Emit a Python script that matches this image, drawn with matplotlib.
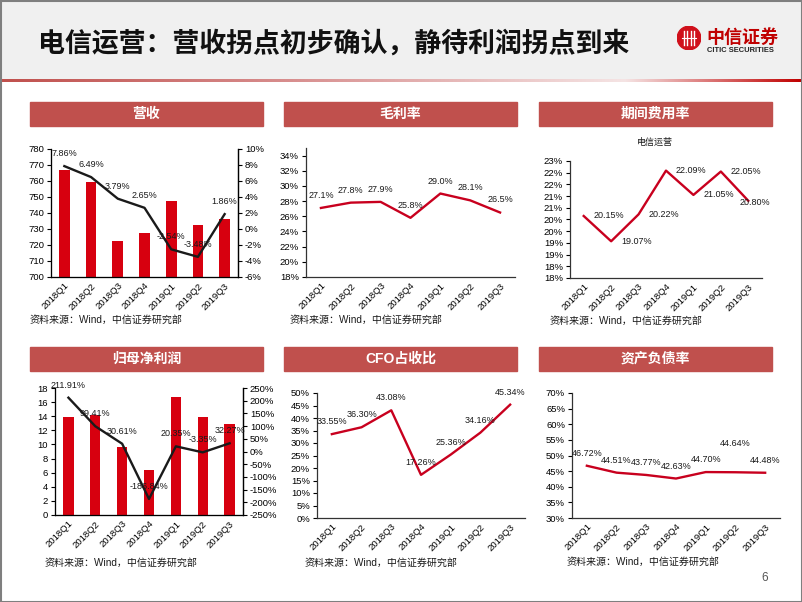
import numpy as np
import matplotlib
matplotlib.use('Agg')
import matplotlib.pyplot as plt
from matplotlib.patches import Rectangle, Circle
from matplotlib.ticker import FuncFormatter

plt.rcParams['font.family'] = ['Liberation Sans', 'Noto Sans CJK SC', 'DejaVu Sans']

# data
quarters = ['2018Q1', '2018Q2', '2018Q3', '2018Q4', '2019Q1', '2019Q2', '2019Q3']
revenue = [767.0, 759.3, 722.8, 727.4, 747.3, 732.5, 736.2]          # 营收 (bars)
revenue_yoy = [7.86, 6.49, 3.79, 2.65, -2.54, -3.48, 1.86]           # %
gross_margin = [27.1, 27.8, 27.9, 25.8, 29.0, 28.1, 26.5]            # %
expense_ratio = [20.15, 19.07, 20.22, 22.09, 21.05, 22.05, 20.80]    # %
net_profit = [13.86, 14.24, 9.62, 6.37, 16.7, 13.86, 12.83]          # 归母净利润 (bars)
net_profit_yoy = [211.91, 99.41, 30.61, -186.84, 20.35, -3.35, 32.27]
cfo_ratio = [33.55, 36.30, 43.08, 17.26, 25.36, 34.16, 45.34]
debt_ratio = [46.72, 44.51, 43.77, 42.63, 44.70, 44.64, 44.48]

page_title = '电信运营：营收拐点初步确认，静待利润拐点到来'
panel_titles = ['营收', '毛利率', '期间费用率', '归母净利润', 'CFO占收比', '资产负债率']
source = '资料来源：Wind，中信证券研究部'

W, H = 802, 602
BAR = '#d7000f'
LINE = '#c8001e'
BANNER = '#c0504d'
TICK = 6.8
LAB = 6.5
x = np.arange(len(quarters))

fig = plt.figure(figsize=(W / 100, H / 100), dpi=100)


def rect(l, t, r, b):
    return [l / W, 1 - b / H, (r - l) / W, (b - t) / H]


def fig_rect(l, t, r, b, **kw):
    fig.patches.append(Rectangle((l / W, 1 - b / H), (r - l) / W, (b - t) / H,
                                 transform=fig.transFigure, **kw))


def pct(dec=0):
    return FuncFormatter(lambda v, p: f'{v:.{dec}f}%')


def style(ax, right=False):
    ax.spines['top'].set_visible(False)
    if not right:
        ax.spines['right'].set_visible(False)
    for s in ax.spines.values():
        s.set_linewidth(0.9)
        s.set_color('#333333')
    ax.set_xlim(-0.5, len(quarters) - 0.5)
    ax.set_xticks(x)
    ax.set_xticklabels(quarters, rotation=45, ha='right', rotation_mode='anchor')
    ax.tick_params(axis='x', length=0, labelsize=TICK, pad=3)
    ax.tick_params(axis='y', direction='out', length=3, width=0.8, labelsize=TICK, pad=2)
    ax.set_facecolor('none')


def labels(ax, vals, fmt, dy=9, dx=0, ha='center', va='center'):
    for i, v in enumerate(vals):
        ax.annotate(fmt.format(v), (i, v), xytext=(dx, dy), textcoords='offset points',
                    ha=ha, va=va, fontsize=LAB, color='#1a1a1a', clip_on=False)


# header
fig_rect(0, 0, W, 78, color='#f0f0f0', zorder=-5)
grad_ax = fig.add_axes(rect(0, 79, W, 82))
stops = np.array([[192, 80, 77], [215, 140, 140], [245, 228, 228], [192, 0, 0]]) / 255
pos = [0.0, 0.35, 0.78, 1.0]
g = np.linspace(0, 1, 400)
grad = np.stack([np.interp(g, pos, stops[:, k]) for k in range(3)], axis=-1)
grad_ax.imshow(grad[None, :, :], aspect='auto', extent=[0, 1, 0, 1])
grad_ax.axis('off')

fig.text(38 / W, 1 - 44 / H, page_title, fontsize=19.4, weight='bold',
         family='Noto Sans CJK SC', va='center', color='#111111')

logo = fig.add_axes(rect(677, 26, 701, 50))
logo.add_patch(Circle((0.5, 0.5), 0.49, color='#d0101b'))
for xx in [0.3, 0.43, 0.57, 0.7]:
    logo.plot([xx, xx], [0.22, 0.78], color='white', lw=1.0)
logo.plot([0.22, 0.78], [0.5, 0.5], color='white', lw=0.8)
logo.set_xlim(0, 1)
logo.set_ylim(0, 1)
logo.axis('off')
fig.text(706 / W, 1 - 37 / H, '中信证券', fontsize=13, weight='bold',
         family='Noto Sans CJK SC', color='#c00000', va='center')
fig.text(707 / W, 1 - 50 / H, 'CITIC SECURITIES', fontsize=5.4, weight='bold',
         color='#222222', va='center')

# banners and sources
cols = [(30, 263), (284, 517), (539, 772)]
rows = [(102, 126), (347, 371)]
src_pos = [(30, 320), (290, 320), (550, 321), (45, 563), (305, 563), (567, 562)]
for k, name in enumerate(panel_titles):
    l, r = cols[k % 3]
    t, b = rows[k // 3]
    fig_rect(l, t, r, b, color=BANNER)
    fig.text((l + r) / 2 / W, 1 - (t + b) / 2 / H, name, color='white', fontsize=10,
             weight='bold', ha='center', va='center')
    sx, sy = src_pos[k]
    fig.text(sx / W, 1 - sy / H, source, fontsize=7.2, va='center', color='#1a1a1a')

# 1 营收
ax1 = fig.add_axes(rect(51, 149, 238, 277))
ax1.bar(x, revenue, width=0.4, color=BAR)
ax1.set_ylim(700, 780)
ax1.set_yticks(np.arange(700, 781, 10))
style(ax1, right=True)
ax1b = ax1.twinx()
ax1b.plot(x, revenue_yoy, color='#1a1a1a', lw=1.7)
ax1b.set_ylim(-6, 10)
ax1b.set_yticks(np.arange(-6, 11, 2))
ax1b.yaxis.set_major_formatter(pct())
ax1b.spines['top'].set_visible(False)
ax1b.spines['right'].set_linewidth(0.9)
ax1b.tick_params(axis='y', direction='out', length=3, width=0.8, labelsize=TICK, pad=2)
labels(ax1b, revenue_yoy, '{:.2f}%')

# 2 毛利率
ax2 = fig.add_axes(rect(306, 148, 515, 277))
ax2.plot(x, gross_margin, color=LINE, lw=1.7)
ax2.set_ylim(18, 35)
ax2.set_yticks(np.arange(18, 35, 2))
ax2.yaxis.set_major_formatter(pct())
style(ax2)
labels(ax2, gross_margin, '{:.1f}%')

# 3 期间费用率
ax3 = fig.add_axes(rect(570, 161, 762, 278))
ax3.plot(x, expense_ratio, color=LINE, lw=1.7)
ax3.set_ylim(17.5, 22.5)
ax3.set_yticks(np.arange(17.5, 22.51, 0.5))
ax3.yaxis.set_major_formatter(FuncFormatter(lambda v, p: f'{int(np.floor(v + 0.5 + 1e-9))}%'))
style(ax3)
labels(ax3, expense_ratio[:-1], '{:.2f}%', dy=0, dx=7, ha='left')
ax3.annotate(f'{expense_ratio[-1]:.2f}%', (6, expense_ratio[-1]), xytext=(-6, -1),
             textcoords='offset points', ha='left', va='center', fontsize=LAB, color='#1a1a1a')
fig.text(655 / W, 1 - 142 / H, '电信运营', fontsize=6.5, ha='center', va='center', color='#1a1a1a')

# 4 归母净利润
ax4 = fig.add_axes(rect(55, 388, 243, 515))
ax4.bar(x, net_profit, width=0.38, color=BAR)
ax4.set_ylim(0, 18)
ax4.set_yticks(np.arange(0, 19, 2))
style(ax4, right=True)
ax4b = ax4.twinx()
ax4b.plot(x, net_profit_yoy, color='#1a1a1a', lw=1.7)
ax4b.set_ylim(-250, 250)
ax4b.set_yticks(np.arange(-250, 251, 50))
ax4b.yaxis.set_major_formatter(pct())
ax4b.spines['top'].set_visible(False)
ax4b.spines['right'].set_linewidth(0.9)
ax4b.tick_params(axis='y', direction='out', length=3, width=0.8, labelsize=TICK, pad=2)
labels(ax4b, net_profit_yoy, '{:.2f}%')

# 5 CFO占收比
ax5 = fig.add_axes(rect(317, 393, 525, 518))
ax5.plot(x, cfo_ratio, color=LINE, lw=1.7)
ax5.set_ylim(0, 50)
ax5.set_yticks(np.arange(0, 51, 5))
ax5.yaxis.set_major_formatter(pct())
style(ax5)
labels(ax5, cfo_ratio, '{:.2f}%')

# 6 资产负债率
ax6 = fig.add_axes(rect(572, 393, 780, 518))
ax6.plot(x, debt_ratio, color=LINE, lw=1.7)
ax6.set_ylim(30, 70)
ax6.set_yticks(np.arange(30, 71, 5))
ax6.yaxis.set_major_formatter(pct())
style(ax6)
lift = [9, 9, 9, 9, 9, 21, 9]
for i, v in enumerate(debt_ratio):
    ax6.annotate(f'{v:.2f}%', (i, v), xytext=(0, lift[i]), textcoords='offset points',
                 ha='center', va='center', fontsize=LAB, color='#1a1a1a')

# page number and frame
fig.text(765 / W, 1 - 578 / H, '6', fontsize=8.5, ha='center', va='center', color='#555555')
fig_rect(0.5, 0.5, W - 0.5, H - 0.5, fill=False, edgecolor='#7f7f7f', lw=1.5, zorder=10)

fig.savefig('out.png', dpi=100)
